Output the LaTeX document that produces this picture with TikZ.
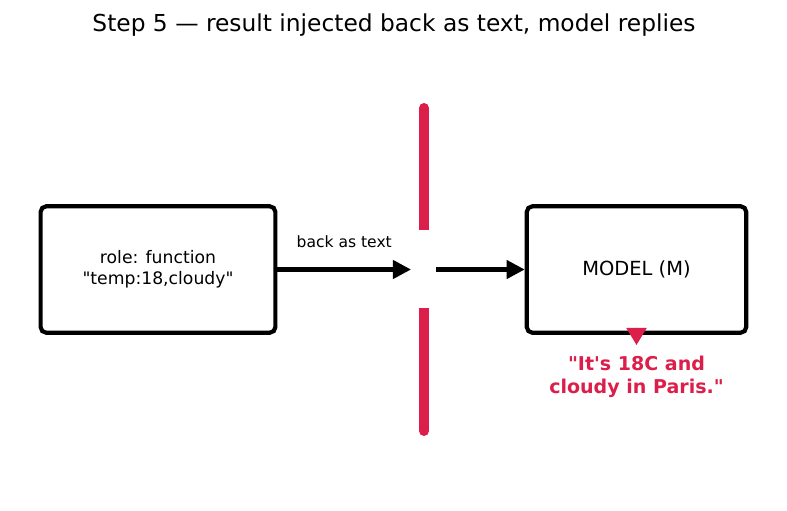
\documentclass[tikz,border=0pt]{standalone}
\usepackage{fontspec}
\setmainfont{DejaVu Sans}[Ligatures=TeXOff]
\usetikzlibrary{positioning,arrows.meta}
\definecolor{alertred}{RGB}{220,30,74}
\tikzstyle{arrow} = [line width=3pt,-{Triangle[length=13pt,width=13pt]}]
\tikzstyle{block} = [draw, line width=3pt, fill=white, rectangle, rounded corners=4pt,
    align=center, minimum height=91pt]
\tikzstyle{wall} = [alertred, line width=7.2pt]

\begin{document}
\begin{tikzpicture}[x=0.72pt, y=-0.72pt]
     \useasboundingbox (0,0) rectangle (787,510);
     \node [name=title, font=\fontsize{16.8}{20}\selectfont] at (394,25)
        {Step 5 — result injected back as text, model replies};

     % the two boxes
     \node [block, minimum width=169pt, font=\fontsize{12.4}{15}\selectfont] (function) at (158,269.5)
        {role: function\\"temp:18,cloudy"};
     \node [block, minimum width=158pt, font=\fontsize{14}{17}\selectfont] (model) at (636.5,269.5)
        {MODEL (M)};

     % the wall with its gap
     \coordinate (walltop) at (424,108);
     \coordinate (gaptop) at (424,230);
     \coordinate (gapbottom) at (424,308);
     \coordinate (wallbottom) at (424,431);
     \draw [wall, line cap=round] (walltop) -- ++(0,60);
     \draw [wall] (walltop) -- (gaptop);
     \draw [wall, line cap=round] (wallbottom) -- ++(0,-60);
     \draw [wall] (gapbottom) -- (wallbottom);

     \coordinate (stop) at (411,269.5);
     \coordinate (restart) at (436,269.5);
     \draw [arrow] (function.east) -- node[above=11pt, font=\fontsize{11.2}{13}\selectfont] {back as text} (stop);
     \draw [arrow] (restart) -- (model.west);

     % the reply
     \node [below=12pt of model, text=alertred, font=\bfseries\fontsize{13.7}{16}\selectfont, align=center] (reply)
        {"It's 18C and\\cloudy in Paris."};
     \draw [alertred, line width=3pt, -{Triangle[length=12.5pt,width=14pt]}] ([yshift=5pt]model.south) -- ([yshift=-7.5pt]model.south);
\end{tikzpicture}
\end{document}
